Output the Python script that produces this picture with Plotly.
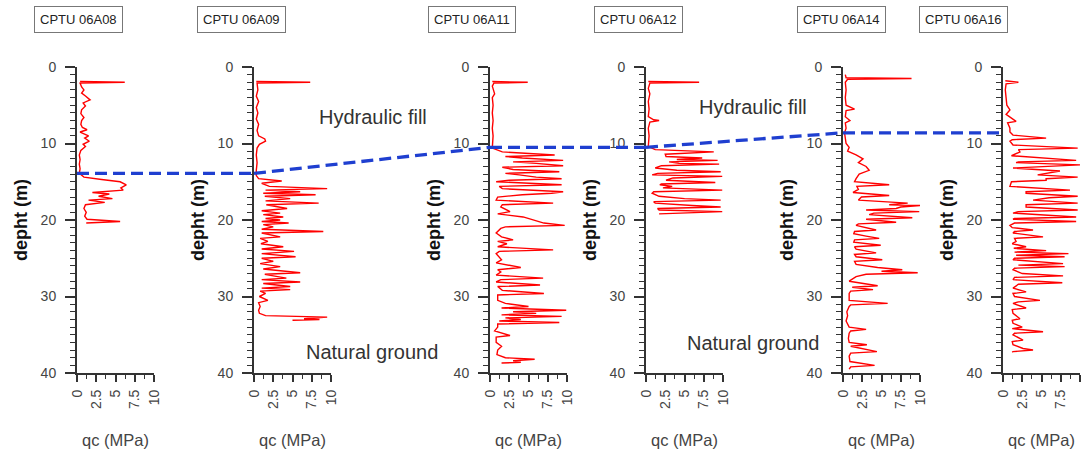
import plotly.graph_objects as go

W, H = 1083, 453

# ---------------- data ----------------
cptu_names = ["CPTU 06A08", "CPTU 06A09", "CPTU 06A11", "CPTU 06A12", "CPTU 06A14", "CPTU 06A16"]

# depth of hydraulic fill / natural ground interface at each CPTU (m)
interface_depth = [13.9, 13.9, 10.5, 10.5, 8.6, 8.6]

# (depth m, qc MPa)
cptu_06A08 = [(1.9,0.4),(2.0,6.2),(2.1,0.4),(2.6,0.6),(3.0,0.9),(3.4,0.6),(3.8,1.1),(4.3,1.7),(4.7,0.8),(5.1,1.1),
              (5.6,0.6),(6.1,0.5),(6.6,0.9),(7.0,0.6),(7.5,0.5),(7.9,0.7),(8.2,1.3),(8.5,0.4),(9.0,1.5),(9.3,1.0),
              (9.7,1.6),(10.1,0.8),(10.4,1.1),(10.9,0.5),(11.5,0.3),(12.1,0.4),(12.7,0.3),(13.3,0.4),(13.9,0.3),(14.4,0.9),
              (14.7,3.2),(15.0,5.6),(15.4,6.4),(15.8,5.7),(16.1,6.0),(16.4,2.0),(16.6,4.2),(16.9,2.8),(17.2,4.6),(17.4,1.5),
              (17.7,3.6),(18.0,1.1),(18.5,0.9),(19.0,1.2),(19.5,1.0),(19.9,1.3),(20.2,5.6),(20.4,1.2)]

cptu_06A09 = [(1.9,0.3),(2.0,7.3),(2.1,0.4),(3.0,0.5),(3.8,0.3),(4.5,0.6),(5.3,0.3),(6.0,0.5),(6.8,0.3),(7.5,0.6),
              (8.3,0.4),(9.0,0.6),(9.4,1.4),(9.7,1.5),(10.1,0.7),(10.6,0.4),(11.5,0.3),(12.5,0.4),(13.5,0.3),(14.2,0.3),
              (14.6,0.6),(14.9,3.6),(15.2,1.0),(15.6,2.0),(15.9,9.5),(16.1,1.5),(16.3,6.0),(16.5,1.2),(16.7,8.0),(16.9,1.4),
              (17.2,4.7),(17.5,1.5),(17.8,8.4),(18.0,1.6),(18.5,4.3),(18.8,1.0),(19.1,3.4),(19.3,1.2),(19.6,3.8),(19.8,1.5),
              (20.0,3.4),(20.2,1.0),(20.4,4.5),(20.6,1.2),(20.9,2.5),(21.2,1.0),(21.5,9.0),(21.7,1.0),(22.2,3.4),(22.4,0.8),
              (22.8,1.8),(23.1,0.9),(23.5,3.8),(23.8,1.0),(24.1,5.2),(24.4,1.0),(24.8,5.4),(25.0,1.0),(25.4,2.5),(25.7,0.8),
              (26.1,3.4),(26.4,1.2),(26.9,6.0),(27.1,1.4),(27.6,4.2),(27.8,1.0),(28.1,6.0),(28.3,1.2),(28.7,4.7),(28.9,1.0),
              (29.1,4.7),(29.3,0.8),(29.6,1.5),(30.0,0.7),(30.5,1.8),(30.8,0.6),(31.3,0.8),(31.8,0.6),(32.2,0.7),(32.5,1.5),
              (32.7,9.5),(32.9,6.5),(33.0,8.5),(33.1,5.0)]

cptu_06A11 = [(1.9,0.3),(2.0,4.9),(2.1,0.5),(2.5,0.3),(3.5,0.6),(4.0,0.3),(5.0,0.4),(6.0,0.3),(7.0,0.4),(8.0,0.3),
              (9.0,0.4),(10.0,0.3),(10.6,0.3),(11.1,1.6),(11.5,8.4),(11.7,2.0),(11.9,4.2),(12.2,9.5),(12.4,3.0),(12.6,6.0),
              (12.9,9.5),(13.1,1.6),(13.4,3.0),(13.7,9.0),(13.9,2.0),(14.1,3.8),(14.4,6.0),(14.6,9.3),(14.8,2.5),(15.0,0.8),
              (15.4,9.3),(15.6,1.2),(15.9,1.6),(16.3,9.5),(16.5,8.0),(16.7,4.2),(17.0,1.0),(17.4,0.8),(17.8,8.2),(18.0,1.6),
              (18.3,1.4),(18.9,2.6),(19.2,1.0),(19.6,4.3),(20.0,5.6),(20.4,7.0),(20.7,9.7),(20.9,2.0),(21.1,1.4),(21.7,0.8),
              (22.2,1.5),(22.6,3.0),(22.8,1.0),(23.1,2.2),(23.5,1.0),(23.9,8.2),(24.1,1.2),(24.4,0.8),(25.2,1.5),(25.6,0.8),
              (26.2,4.0),(26.5,1.0),(26.8,1.4),(27.2,0.8),(27.6,6.9),(27.8,1.4),(28.1,0.8),(28.5,6.5),(28.7,1.0),(29.2,1.6),
              (29.6,7.0),(29.8,1.0),(30.5,1.0),(30.9,2.0),(31.3,5.0),(31.5,1.5),(31.8,9.9),(32.0,3.0),(32.2,6.0),(32.4,1.5),
              (32.6,9.3),(32.8,2.0),(33.0,4.0),(33.2,1.2),(33.4,9.0),(33.6,1.0),(34.0,1.0),(34.5,0.6),(35.1,2.6),(35.3,0.8),
              (36.0,0.8),(36.5,1.5),(37.0,1.0),(37.6,0.9),(38.0,2.0),(38.2,5.8),(38.4,3.0),(38.6,4.0),(38.7,1.5)]

cptu_06A12 = [(1.9,0.3),(2.0,6.9),(2.1,0.5),(2.8,0.3),(3.5,0.5),(4.5,0.3),(5.5,0.4),(6.5,0.3),(6.9,1.0),(7.0,1.7),
              (7.2,0.5),(8.0,0.3),(9.0,0.4),(10.0,0.3),(10.4,0.3),(10.8,1.2),(11.1,8.8),(11.4,2.5),(11.7,2.6),(11.9,7.3),
              (12.1,4.0),(12.2,9.3),(12.4,3.0),(12.6,4.3),(12.7,9.5),(12.9,2.0),(13.2,1.2),(13.5,4.0),(13.7,9.7),(13.9,1.5),
              (14.1,0.8),(14.3,9.9),(14.5,3.5),(14.8,2.6),(15.1,9.0),(15.3,2.0),(15.4,1.8),(15.6,3.4),(15.8,2.2),(16.1,9.9),
              (16.3,1.0),(16.5,0.8),(16.9,1.7),(17.2,5.0),(17.4,9.7),(17.6,1.0),(17.8,1.2),(18.1,6.0),(18.3,9.7),(18.5,1.5),
              (18.7,1.7),(18.9,9.9),(19.1,2.0),(19.2,1.7)]

cptu_06A14 = [(1.0,0.3),(1.4,0.4),(1.5,8.9),(1.6,0.6),(2.0,0.3),(3.0,0.4),(4.0,0.3),(5.0,0.4),(5.5,1.5),(5.7,0.4),
              (6.5,0.3),(7.0,0.9),(7.3,0.3),(8.0,0.4),(8.6,0.2),(9.2,0.3),(10.0,0.4),(10.5,0.8),(11.0,0.6),(11.5,1.7),
              (12.0,2.6),(12.5,2.0),(13.0,3.0),(13.5,3.4),(14.0,2.1),(14.6,1.7),(15.0,1.5),(15.4,6.0),(15.6,1.8),(16.0,2.0),
              (16.4,1.3),(16.8,6.0),(17.0,2.4),(17.4,2.0),(17.8,8.4),(18.0,6.0),(18.1,10.0),(18.3,7.5),(18.5,6.9),(18.7,3.0),
              (18.9,9.9),(19.1,4.0),(19.3,3.4),(19.7,9.0),(19.9,3.0),(20.3,6.9),(20.5,2.0),(20.7,1.7),(21.3,4.3),(21.5,1.5),
              (21.8,1.4),(22.1,3.0),(22.4,4.7),(22.6,1.5),(22.9,1.4),(23.3,4.9),(23.5,1.5),(23.8,1.7),(24.3,4.3),(24.5,1.5),
              (24.8,1.7),(25.2,5.1),(25.4,1.5),(25.8,1.7),(26.2,4.5),(26.5,7.7),(26.7,5.0),(26.9,9.7),(27.1,3.0),(27.4,1.7),
              (28.0,0.8),(28.6,4.5),(28.8,1.2),(29.1,3.9),(29.3,1.0),(29.6,0.8),(30.5,0.8),(30.9,5.8),(31.1,1.0),(31.3,0.8),
              (32.0,0.5),(32.5,0.6),(33.2,0.4),(34.0,0.8),(34.3,3.0),(34.5,1.0),(34.8,0.8),(35.5,0.7),(36.0,0.8),(36.3,3.1),
              (36.5,1.0),(37.2,4.4),(37.4,1.0),(37.8,0.8),(38.5,0.9),(39.0,4.1),(39.2,1.0),(39.5,0.8)]

cptu_06A16 = [(1.8,0.3),(2.0,2.0),(2.2,0.4),(3.0,0.3),(4.0,0.4),(5.0,0.5),(5.6,0.9),(6.2,0.4),(7.1,1.7),(7.3,0.6),
              (8.0,0.9),(8.5,0.9),(8.9,1.3),(9.3,5.6),(9.5,1.2),(9.7,0.9),(10.2,1.3),(10.6,9.7),(10.8,2.0),(11.1,2.2),
              (11.6,1.1),(12.2,9.5),(12.4,2.0),(12.5,1.7),(12.8,10.0),(13.0,6.0),(13.2,1.3),(13.6,7.4),(13.9,5.6),(14.1,4.5),
              (14.4,9.7),(14.6,5.6),(14.8,5.6),(15.0,1.1),(15.6,0.9),(16.1,8.7),(16.3,3.0),(16.5,3.0),(16.9,9.7),(17.1,6.0),
              (17.4,3.9),(17.8,9.7),(18.0,3.0),(18.3,3.0),(18.7,9.7),(18.9,2.0),(19.1,1.3),(19.6,9.5),(19.8,1.5),(19.9,1.3),
              (20.2,9.5),(20.4,1.5),(20.7,0.9),(21.0,1.2),(21.3,3.9),(21.5,1.5),(21.7,1.3),(22.2,5.2),(22.4,1.5),(22.8,1.7),
              (23.1,1.2),(23.5,3.0),(23.7,1.4),(24.0,5.6),(24.2,1.5),(24.4,8.5),(24.6,1.7),(24.8,8.0),(25.0,1.5),(25.2,1.3),
              (25.7,7.8),(25.9,2.0),(26.1,8.0),(26.3,1.5),(26.5,1.3),(27.0,2.5),(27.3,7.8),(27.5,1.5),(27.8,1.3),(28.2,7.7),
              (28.4,2.0),(28.9,1.3),(29.4,3.0),(29.6,1.3),(30.0,1.5),(30.3,3.9),(30.5,4.8),(30.7,2.0),(30.9,1.3),(31.5,3.0),
              (31.7,1.2),(32.2,1.3),(32.9,2.2),(33.1,1.2),(33.5,1.3),(34.0,2.5),(34.2,1.2),(34.6,5.2),(34.8,1.5),(35.0,1.3),
              (35.7,2.6),(35.9,1.2),(36.3,1.3),(36.8,2.6),(37.0,3.9),(37.2,1.3),(37.3,1.2)]

profiles = [cptu_06A08, cptu_06A09, cptu_06A11, cptu_06A12, cptu_06A14, cptu_06A16]

depth_range = [40, 0]     # reversed: depth increases downward
depth_dtick = 10
qc_range = [0, 10]
qc_dtick = 2.5

# ---------------- layout geometry (pixels) ----------------
panel_left = [77, 254, 490, 646, 843, 1003]
panel_w = 77
plot_top, plot_bottom = 67, 373
title_cx = [78, 241, 472, 638, 841, 963]

def px(x):
    return x / W

def py(y):
    return 1 - y / H

ydom = [py(plot_bottom), py(plot_top)]
FONT = "Liberation Sans, Arial, sans-serif"
AX = "#333333"
NP = len(profiles)

fig = go.Figure()
layout = dict(
    width=W, height=H, margin=dict(l=0, r=0, t=0, b=0),
    plot_bgcolor="white", paper_bgcolor="white", showlegend=False,
    font=dict(family=FONT, color="#444"), template="none",
)
annotations = []
shapes = []

for i, prof in enumerate(profiles):
    n = i + 1
    xa = "x" if n == 1 else f"x{n}"
    ya = "y" if n == 1 else f"y{n}"
    dep = [p[0] for p in prof]
    qc = [p[1] for p in prof]
    fig.add_trace(go.Scatter(x=qc, y=dep, mode="lines", xaxis=xa, yaxis=ya,
                             line=dict(color="#ff0000", width=1.4), hoverinfo="skip"))
    x0 = px(panel_left[i])
    x1 = px(panel_left[i] + panel_w)
    layout["xaxis" if n == 1 else f"xaxis{n}"] = dict(
        domain=[x0, x1], anchor=ya, range=qc_range, showgrid=False, zeroline=False,
        showline=True, linecolor=AX, linewidth=2,
        tickmode="linear", tick0=0, dtick=qc_dtick, tickangle=-90,
        ticks="outside", ticklen=7, tickwidth=1.5, tickcolor=AX,
        minor=dict(tick0=0, dtick=qc_dtick / 2, ticks="outside",
                   ticklen=4, tickcolor=AX, tickwidth=1.2),
        tickfont=dict(size=14, color="#444", family=FONT), ticklabelstandoff=2,
    )
    layout["yaxis" if n == 1 else f"yaxis{n}"] = dict(
        domain=ydom, anchor=xa, range=depth_range, showgrid=False, zeroline=False,
        showline=True, linecolor=AX, linewidth=2,
        tickmode="linear", tick0=0, dtick=depth_dtick,
        ticks="outside", ticklen=10, tickwidth=1.5, tickcolor=AX,
        minor=dict(tick0=0, dtick=1, ticks="outside",
                   ticklen=5, tickcolor=AX, tickwidth=1.2),
        tickfont=dict(size=14, color="#444", family=FONT), ticklabelstandoff=6,
    )
    # overlay depth axis providing the inner half of the crossing minor ticks
    oy = NP + n
    layout[f"yaxis{oy}"] = dict(
        domain=ydom, anchor=xa, overlaying=ya, side="left", range=depth_range,
        showgrid=False, zeroline=False, showline=False, showticklabels=False,
        tickmode="linear", tick0=0, dtick=depth_dtick, ticks="inside", ticklen=3,
        tickwidth=1.2, tickcolor=AX,
        minor=dict(tick0=0, dtick=1, ticks="inside", ticklen=3, tickcolor=AX, tickwidth=1.2),
    )
    # box title
    annotations.append(dict(
        text=cptu_names[i], x=px(title_cx[i]), y=py(19.5), xref="paper", yref="paper",
        xanchor="center", yanchor="middle", showarrow=False,
        font=dict(size=13, color="#222", family=FONT),
        bordercolor="#777", borderwidth=1, borderpad=5, bgcolor="white"))
    # y axis title
    annotations.append(dict(
        text="<b>depht (m)</b>", x=px(panel_left[i] - 56), y=py((plot_top + plot_bottom) / 2),
        xref="paper", yref="paper", xanchor="center", yanchor="middle", textangle=-90,
        showarrow=False, font=dict(size=18, color="#111", family=FONT)))
    # x axis title
    annotations.append(dict(
        text="qc (MPa)", x=px(panel_left[i] + 38), y=py(440), xref="paper", yref="paper",
        xanchor="center", yanchor="middle", showarrow=False,
        font=dict(size=16.5, color="#444", family=FONT)))

# interface line: x at each CPTU axis (paper), y = interface depth on the shared depth scale
for k in range(len(panel_left) - 1):
    shapes.append(dict(
        type="line", xref="paper", yref="y",
        x0=px(panel_left[k]), x1=px(panel_left[k + 1]),
        y0=interface_depth[k], y1=interface_depth[k + 1],
        line=dict(color="#1f3fd0", width=3.3, dash="12px,6px"), layer="above"))

for txt, lx, ly in [("Hydraulic fill", 317, 117), ("Hydraulic fill", 697, 107),
                    ("Natural ground", 304, 352), ("Natural ground", 685, 343)]:
    annotations.append(dict(
        text=txt, x=px(lx), y=py(ly), xref="paper", yref="paper", xanchor="left",
        yanchor="middle", showarrow=False, font=dict(size=20, color="#333", family=FONT)))

layout["annotations"] = annotations
layout["shapes"] = shapes
fig.update_layout(**layout)
fig.write_html("out.html")
